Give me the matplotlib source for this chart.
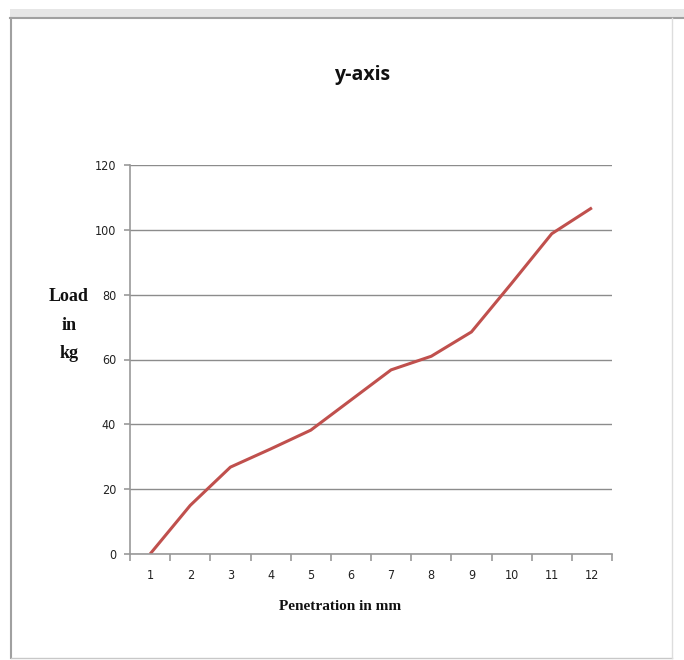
import matplotlib
matplotlib.use("Agg")
import matplotlib.pyplot as plt
from matplotlib.lines import Line2D
from matplotlib.patches import Rectangle
from matplotlib import font_manager

categories = ["1", "2", "3", "4", "5", "6", "7", "8", "9", "10", "11", "12"]
load = [0, 15, 26.8, 32.4, 38.2, 47.5, 56.8, 61, 68.5, 83.5, 98.8, 106.8]
yticks = [0, 20, 40, 60, 80, 100, 120]

names = {f.name for f in font_manager.fontManager.ttflist}
narrow = "Liberation Sans Narrow" if "Liberation Sans Narrow" in names else "DejaVu Sans"

fig = plt.figure(figsize=(6.84, 6.60), dpi=100)
ax = fig.add_axes([130/684, 1-554/660, (612-130)/684, (554-165)/660])

x = list(range(1, len(categories)+1))
ax.plot(x, load, color="#C0504D", lw=2.2, solid_capstyle="butt")

ax.set_xlim(0.5, 12.5)
ax.set_ylim(0, 120)
ax.set_yticks(yticks)
ax.set_xticks(x)
ax.set_xticklabels(categories)
ax.set_xticks([i + 0.5 for i in range(0, 13)], minor=True)
ax.tick_params(axis="x", which="major", length=0, pad=11)
ax.tick_params(axis="x", which="minor", length=5, width=1.2, color="#999999", direction="out")
ax.tick_params(axis="y", length=4, width=1.2, color="#999999", pad=6)
for lab in ax.get_xticklabels() + ax.get_yticklabels():
    lab.set_fontfamily([narrow, "DejaVu Sans"])
    lab.set_fontstretch("condensed")
    lab.set_fontsize(9)
    lab.set_color("#222222")
ax.grid(axis="y", color="#8c8c8c", lw=1.0)
ax.set_axisbelow(True)
for s in ["top", "right"]:
    ax.spines[s].set_visible(False)
for s in ["left", "bottom"]:
    ax.spines[s].set_color("#999999")
    ax.spines[s].set_linewidth(1.2)

fig.text(362/684, 1-75/660, "y-axis", ha="center", va="center",
         fontsize=14, fontweight="bold", family=["Open Sans", "DejaVu Sans"], color="#111111")
fig.text(69/684, 1-325/660, "Load\nin\nkg", ha="center", va="center",
         fontsize=13, fontweight="bold", family=["Liberation Serif", "DejaVu Serif"],
         linespacing=1.9, color="#111111")
fig.text(340/684, 1-606/660, "Penetration in mm", ha="center", va="center",
         fontsize=11, fontweight="bold", family=["Liberation Serif", "DejaVu Serif"], color="#111111")

# screenshot frame
fig.patches.append(Rectangle((10/684, 1-18/660), 1, 9/660, transform=fig.transFigure,
                             facecolor="#e6e6e6", edgecolor="none"))
fig.lines.append(Line2D([10/684, 1], [1-18/660, 1-18/660], transform=fig.transFigure, color="#a0a0a0", lw=1.5))
fig.lines.append(Line2D([11/684, 11/684], [1-18/660, 1-658/660], transform=fig.transFigure, color="#a0a0a0", lw=1.5))
fig.lines.append(Line2D([11/684, 672/684], [1-658/660, 1-658/660], transform=fig.transFigure, color="#c8c8c8", lw=1.0))
fig.lines.append(Line2D([672/684, 672/684], [1-18/660, 1-658/660], transform=fig.transFigure, color="#dddddd", lw=1.0))

fig.savefig("out.png", dpi=100)
